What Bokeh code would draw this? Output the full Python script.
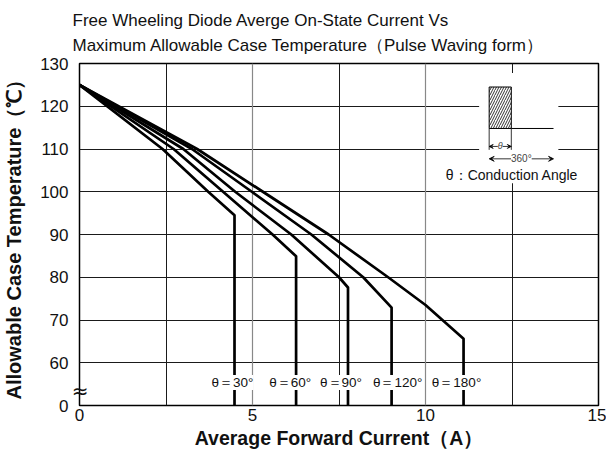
from bokeh.plotting import figure
from bokeh.models import Range1d, FixedTicker, Grid, Label, Arrow, VeeHead, LinearAxis
from bokeh.embed import file_html
from bokeh.resources import INLINE

# ---------------- data ----------------
angles = ["30", "60", "90", "120", "180"]
cur_30 = [0, 2.4, 3.72, 4.48, 4.48]
temp_30 = [125, 110, 100, 94.5, 0]
cur_60 = [0, 2.72, 4.15, 5.58, 6.26, 6.26]
temp_60 = [125, 110, 100, 90, 84.9, 0]
cur_90 = [0, 3.0, 4.5, 6.12, 7.5, 7.76, 7.76]
temp_90 = [125, 110, 100, 90, 80, 77.6, 0]
cur_120 = [0, 3.25, 4.98, 6.7, 8.2, 9.02, 9.02]
temp_120 = [125, 110, 100, 90, 80, 72.9, 0]
cur_180 = [0, 3.4, 5.3, 7.2, 8.92, 10.0, 11.1, 11.1]
temp_180 = [125, 110, 100, 90, 80, 73.5, 65.6, 0]

x_ticks = [0, 5, 10, 15]
y_ticks = [0, 60, 70, 80, 90, 100, 110, 120, 130]

# broken y axis: values >= 60 are linear, 0 sits one step below 60
Y_BREAK = 50
BREAK_MARK_POS = 53.4


def ymap(t):
    return t if t >= 60 else Y_BREAK + t * 10.0 / 60.0


series = [(cur_30, temp_30), (cur_60, temp_60), (cur_90, temp_90),
          (cur_120, temp_120), (cur_180, temp_180)]

# pixel nudges of the angle captions (layout only)
caption_dx = [-2, -6, -7, 6, -7]

FONT = "Liberation Sans"

p = figure(width=606, height=452, x_range=Range1d(0, 15), y_range=Range1d(Y_BREAK, 130),
           output_backend="svg", toolbar_location=None,
           min_border_left=79, min_border_right=8, min_border_bottom=47, min_border_top=63)

p.title.text = ("Free Wheeling Diode Averge On-State Current Vs\n"
                "Maximum Allowable Case Temperature（Pulse Waving form）")
p.title.text_font = FONT
p.title.text_font_size = "17px"
p.title.text_font_style = "normal"
p.title.text_color = "#111111"
p.title.align = "left"
p.title.offset = -7
p.title.standoff = 17
p.title.text_line_height = 1.3

p.outline_line_color = "black"
p.outline_line_width = 1.5
p.background_fill_color = "white"
p.border_fill_color = "white"

# axis-break mark drawn as a tick label sitting across the left border
break_axis = LinearAxis(ticker=FixedTicker(ticks=[BREAK_MARK_POS]),
                        major_label_overrides={BREAK_MARK_POS: "≈"},
                        major_label_standoff=-9,
                        major_label_text_font="DejaVu Sans",
                        major_label_text_font_size="20px",
                        major_label_text_color="#111111",
                        axis_line_color=None, major_tick_line_color=None,
                        minor_tick_line_color=None, major_tick_out=0, major_tick_in=0)
p.left.insert(0, break_axis)

# axes
p.xaxis.ticker = FixedTicker(ticks=x_ticks)
main_y = p.left[1]
main_y.ticker = FixedTicker(ticks=[ymap(v) for v in y_ticks])
main_y.major_label_overrides = {ymap(v): str(v) for v in y_ticks}
for ax in (p.xaxis[0], main_y):
    ax.axis_line_color = None
    ax.major_tick_line_color = None
    ax.minor_tick_line_color = None
    ax.major_tick_out = 0
    ax.major_tick_in = 0
    ax.major_label_text_font = FONT
    ax.major_label_text_font_size = "17px"
    ax.major_label_text_color = "#111111"
    ax.axis_label_text_font = FONT
    ax.axis_label_text_font_style = "bold"
    ax.axis_label_text_color = "#111111"
p.xaxis.axis_label_text_font_size = "19.5px"
main_y.axis_label_text_font_size = "20px"
p.xaxis.major_label_standoff = 3
main_y.major_label_standoff = 0
p.xaxis.axis_label = "Average Forward Current（A）"
main_y.axis_label = "Allowable Case Temperature（℃）"
p.xaxis.axis_label_standoff = 3
main_y.axis_label_standoff = 12

# grids
p.ygrid.ticker = FixedTicker(ticks=[60, 70, 80, 90, 100, 110, 120])
p.ygrid.grid_line_color = "#1a1a1a"
p.ygrid.grid_line_width = 1
p.xgrid.ticker = FixedTicker(ticks=[2.5, 7.5, 12.5])
p.xgrid.grid_line_color = "#1a1a1a"
p.xgrid.grid_line_width = 1
p.add_layout(Grid(dimension=0, ticker=FixedTicker(ticks=[5, 10]),
                  grid_line_color="#888888", grid_line_width=1.2))

# curves
for cx, ty in series:
    p.line(cx, [ymap(t) for t in ty], line_color="black", line_width=2.7,
           line_join="round")

# angle captions at the vertical drops
for a, (cx, ty), dx in zip(angles, series, caption_dx):
    p.add_layout(Label(x=cx[-1], y=55.4, text=f"θ＝{a}°", text_align="center",
                       text_baseline="middle", x_offset=dx,
                       text_font=FONT, text_font_size="13.5px", text_color="#111111",
                       background_fill_color="white", background_fill_alpha=1.0))

# inset: waveform sketch
p.quad(left=[11.55], right=[13.84], bottom=[102.0], top=[127.8],
       fill_color="white", line_color=None)
p.quad(left=[11.84], right=[12.48], bottom=[114.8], top=[124.5],
       fill_color="white", line_color="black", line_width=1,
       hatch_pattern="/", hatch_color="black", hatch_scale=5, hatch_weight=0.8)
p.segment(x0=[12.48], y0=[114.8], x1=[13.7], y1=[114.8], line_color="black", line_width=1)
p.segment(x0=[11.84, 12.48], y0=[114.8, 114.8], x1=[11.84, 12.48], y1=[109.8, 109.8],
          line_color="black", line_width=0.8)
p.add_layout(Arrow(x_start=11.84, y_start=110.6, x_end=12.48, y_end=110.6,
                   start=VeeHead(size=4, line_width=0.8), end=VeeHead(size=4, line_width=0.8),
                   line_width=0.8))
p.add_layout(Label(x=12.16, y=110.6, text="θ", text_align="center", text_baseline="middle",
                   text_font=FONT, text_font_style="italic", text_font_size="9px",
                   background_fill_color="white", background_fill_alpha=1.0))
p.add_layout(Arrow(x_start=11.84, y_start=107.7, x_end=13.7, y_end=107.7,
                   start=VeeHead(size=5, line_width=0.8), end=VeeHead(size=5, line_width=0.8),
                   line_width=0.8))
p.add_layout(Label(x=12.77, y=107.7, text="360°", text_align="center", text_baseline="middle",
                   text_font=FONT, text_font_size="10px",
                   background_fill_color="white", background_fill_alpha=1.0))
p.add_layout(Label(x=12.5, y=103.9, text="θ：Conduction Angle", text_align="center",
                   text_baseline="middle", text_font=FONT, text_font_size="14px",
                   text_color="#111111"))

open("out.html", "w").write(file_html(p, INLINE))
